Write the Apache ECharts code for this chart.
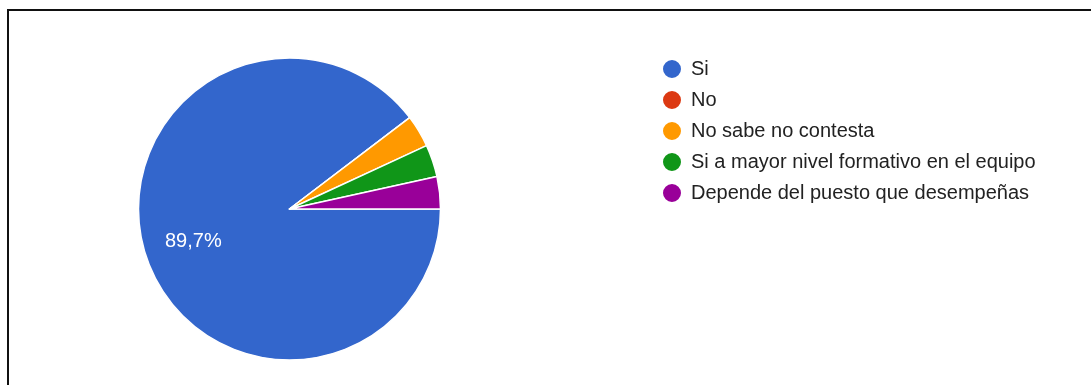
<!DOCTYPE html>
<html>
<head>
<meta charset="utf-8">
<script src="https://cdn.jsdelivr.net/npm/echarts@6/dist/echarts.min.js"></script>
<style>
  html, body { margin: 0; padding: 0; background: #fff; }
  #wrap { position: relative; width: 1091px; height: 385px; overflow: hidden; }
  #frame { position: absolute; left: 7px; top: 9px; right: -10px; bottom: -10px;
           border-left: 2px solid #111; border-top: 2px solid #111; box-sizing: border-box; }
  #chart { position: absolute; left: 0; top: 0; width: 1091px; height: 385px; }
</style>
</head>
<body>
<div id="wrap">
  <div id="chart"></div>
  <div id="frame"></div>
</div>
<script>
// Survey answers and their response counts
const categories = ['Si', 'No', 'No sabe no contesta', 'Si a mayor nivel formativo en el equipo', 'Depende del puesto que desempeñas'];
const counts = [26, 0, 1, 1, 1];
const colors = ['#3366cc', '#dc3912', '#ff9900', '#109618', '#990099'];

const total = counts.reduce((a, b) => a + b, 0);
const pieData = categories.map((name, i) => ({ name: name, value: counts[i] }));

function pctText(v) {
  return (v / total * 100).toFixed(1).replace('.', ',') + '%';
}

const FONT = 'Liberation Sans, Arial, sans-serif';

const chart = echarts.init(document.getElementById('chart'), null, { renderer: 'canvas' });
chart.setOption({
  animation: false,
  backgroundColor: '#ffffff',
  color: colors,
  legend: {
    orient: 'vertical',
    left: 656,
    top: 53,
    icon: 'circle',
    itemWidth: 20,
    itemHeight: 20,
    itemGap: 9,
    selectedMode: false,
    textStyle: {
      fontFamily: FONT,
      fontSize: 20,
      lineHeight: 19,
      color: '#222222',
      padding: [0, 0, 0, 4]
    },
    data: categories
  },
  series: [
    {
      type: 'pie',
      center: [289.5, 209],
      radius: [0, 151],
      startAngle: 0,
      clockwise: true,
      avoidLabelOverlap: false,
      label: { show: false },
      labelLine: { show: false },
      emphasis: { disabled: true },
      itemStyle: { borderColor: '#ffffff', borderWidth: 1.5 },
      data: pieData
    },
    {
      // transparent ring used only to place the percentage labels
      type: 'pie',
      center: [289.5, 209],
      radius: [46, 151],
      startAngle: 0,
      clockwise: true,
      silent: true,
      legendHoverLink: false,
      avoidLabelOverlap: false,
      itemStyle: { color: 'rgba(0,0,0,0)', borderWidth: 0 },
      emphasis: { disabled: true },
      labelLine: { show: false },
      label: {
        show: true,
        position: 'inside',
        color: '#ffffff',
        fontFamily: FONT,
        fontSize: 20,
        formatter: function (p) {
          return p.value / total >= 0.05 ? pctText(p.value) : '';
        }
      },
      data: pieData
    }
  ]
});
</script>
</body>
</html>
